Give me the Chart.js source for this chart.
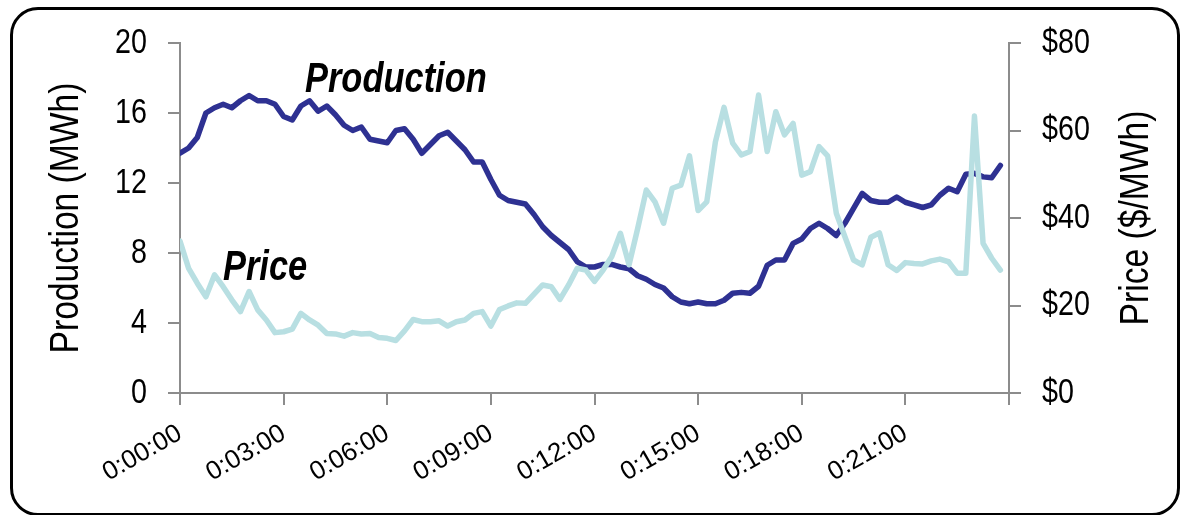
<!DOCTYPE html>
<html>
<head>
<meta charset="utf-8">
<title>Production and price</title>
<script src="https://cdn.jsdelivr.net/npm/chart.js@4.4.1/dist/chart.umd.min.js"></script>
<style>
  html, body { margin: 0; padding: 0; background: #fff; }
  body { width: 1181px; height: 515px; position: relative; overflow: hidden; }
  #frame {
    position: absolute; left: 10px; top: 7px;
    width: 1164px; height: 503px;
    border: 3px solid #000; border-radius: 28px;
  }
  #chart { position: absolute; left: 0; top: 0; }
</style>
</head>
<body>
<div id="frame"></div>
<canvas id="chart" width="1181" height="515"></canvas>
<script>
// one reading every 15 seconds, 0:00:00 through 0:23:45
const stepMinutes = 0.25;

const production = [
  13.7, 14.0, 14.6, 16.0, 16.3, 16.5, 16.3, 16.7, 17.0, 16.7, 16.7, 16.5,
  15.8, 15.6, 16.4, 16.7, 16.1, 16.4, 15.9, 15.3, 15.0, 15.2, 14.5, 14.4,
  14.3, 15.0, 15.1, 14.5, 13.7, 14.2, 14.7, 14.9, 14.4, 13.9, 13.2, 13.2,
  12.2, 11.3, 11.0, 10.9, 10.8, 10.2, 9.5, 9.0, 8.6, 8.2, 7.5, 7.2,
  7.2, 7.35, 7.35, 7.2, 7.1, 6.7, 6.5, 6.2, 6.0, 5.5, 5.2, 5.1,
  5.2, 5.1, 5.1, 5.3, 5.7, 5.75, 5.7, 6.1, 7.3, 7.6, 7.6, 8.55,
  8.8, 9.4, 9.7, 9.4, 9.0, 9.7, 10.55, 11.4, 11.0, 10.9, 10.9, 11.2,
  10.9, 10.75, 10.6, 10.75, 11.3, 11.7, 11.5, 12.5, 12.55, 12.35, 12.3, 13.0,
];

const price = [
  34.7, 28.5, 25.1, 22.0, 27.0, 24.3, 21.3, 18.6, 23.2, 19.0, 16.7, 13.8,
  14.0, 14.6, 18.2, 16.7, 15.5, 13.6, 13.5, 13.0, 13.8, 13.5, 13.6, 12.7,
  12.5, 12.0, 14.2, 16.8, 16.3, 16.3, 16.5, 15.3, 16.3, 16.7, 18.2, 18.6,
  15.3, 19.1, 19.9, 20.6, 20.5, 22.6, 24.7, 24.3, 21.4, 24.7, 28.5, 28.1,
  25.5, 28.1, 31.2, 36.5, 29.3, 37.6, 46.4, 43.7, 38.8, 46.8, 47.5, 54.2,
  41.7, 43.7, 57.4, 65.3, 57.1, 54.4, 55.2, 68.1, 55.2, 64.3, 59.0, 61.6,
  49.8, 50.6, 56.3, 54.2, 41.1, 35.7, 30.4, 29.3, 35.6, 36.6, 29.3, 28.0,
  29.8, 29.6, 29.5, 30.2, 30.6, 30.0, 27.4, 27.4, 63.3, 34.2, 30.8, 28.1,
];

const productionTicks = [0, 4, 8, 12, 16, 20];
const priceTicks = [0, 20, 40, 60, 80];
const timeTicks = [0, 3, 6, 9, 12, 15, 18, 21, 24];

const axisGray = "#8c8c8c";
const baseFont = '"Liberation Sans", Arial, sans-serif';
// no narrow face is installed, so the condensed text is squeezed horizontally
const squeeze = 0.82;

function toPoints(values) {
  return values.map((value, index) => ({ x: index * stepMinutes, y: value }));
}

function timeLabel(minutes) {
  if (minutes >= 24) return "";
  return `0:${String(minutes).padStart(2, "0")}:00`;
}

function condensedText(ctx, text, x, y, { font, align = "left", baseline = "alphabetic", rotate = 0 }) {
  ctx.save();
  ctx.translate(x, y);
  ctx.rotate(rotate);
  ctx.scale(squeeze, 1);
  ctx.font = font;
  ctx.textAlign = align;
  ctx.textBaseline = baseline;
  ctx.fillStyle = "#000";
  ctx.fillText(text, 0, 0);
  ctx.restore();
}

// y tick labels, axis titles and the in-plot series names
const condensedLabels = {
  id: "condensedLabels",
  afterDraw(chart) {
    const { ctx, scales } = chart;
    const tickFont = `35px ${baseFont}`;
    const titleFont = `41px ${baseFont}`;

    scales.y.ticks.forEach((tick) => {
      condensedText(ctx, String(tick.value), scales.y.right - 33, scales.y.getPixelForValue(tick.value),
        { font: tickFont, align: "right", baseline: "middle" });
    });
    scales.y2.ticks.forEach((tick) => {
      condensedText(ctx, `$${tick.value}`, scales.y2.left + 33, scales.y2.getPixelForValue(tick.value),
        { font: tickFont, align: "left", baseline: "middle" });
    });

    const midY = (chart.chartArea.top + chart.chartArea.bottom) / 2;
    condensedText(ctx, "Production (MWh)", 67, midY,
      { font: titleFont, align: "center", baseline: "middle", rotate: -Math.PI / 2 });
    condensedText(ctx, "Price ($/MWh)", 1137, midY,
      { font: titleFont, align: "center", baseline: "middle", rotate: -Math.PI / 2 });

    const nameFont = `italic bold 42px ${baseFont}`;
    condensedText(ctx, "Production", 305, 92, { font: nameFont });
    condensedText(ctx, "Price", 223, 280, { font: nameFont });
  },
};

function fixedSize(size, key) {
  return (scale) => { scale[key] = size; };
}

const sharedGrid = {
  drawOnChartArea: false,
  drawTicks: true,
  tickLength: 12,
  color: axisGray,
  lineWidth: 2,
};

new Chart(document.querySelector("#chart"), {
  type: "line",
  data: {
    datasets: [
      {
        label: "Price",
        data: toPoints(price),
        yAxisID: "y2",
        borderColor: "#b8dfe2",
        borderWidth: 5.5,
        pointRadius: 0,
        tension: 0,
        borderJoinStyle: "round",
        borderCapStyle: "round",
        order: 0,
      },
      {
        label: "Production",
        data: toPoints(production),
        yAxisID: "y",
        borderColor: "#2e3192",
        borderWidth: 5.5,
        pointRadius: 0,
        tension: 0,
        borderJoinStyle: "round",
        borderCapStyle: "round",
        order: 1,
      },
    ],
  },
  options: {
    responsive: false,
    animation: false,
    layout: { padding: { top: 43, left: 0, right: 0, bottom: 0 } },
    plugins: {
      legend: { display: false },
      tooltip: { enabled: false },
    },
    scales: {
      x: {
        type: "linear",
        min: 0,
        max: 24,
        afterFit: fixedSize(122, "height"),
        afterBuildTicks: (scale) => { scale.ticks = timeTicks.map((value) => ({ value })); },
        grid: sharedGrid,
        border: { color: axisGray, width: 2 },
        ticks: {
          autoSkip: false,
          minRotation: 30,
          maxRotation: 30,
          padding: 13,
          color: "#000",
          font: { family: baseFont, size: 26 },
          callback: (value) => timeLabel(value),
        },
      },
      y: {
        position: "left",
        min: 0,
        max: 20,
        afterFit: fixedSize(180, "width"),
        afterBuildTicks: (scale) => { scale.ticks = productionTicks.map((value) => ({ value })); },
        grid: sharedGrid,
        border: { color: axisGray, width: 2 },
        ticks: { display: false },
      },
      y2: {
        position: "right",
        min: 0,
        max: 80,
        afterFit: fixedSize(172, "width"),
        afterBuildTicks: (scale) => { scale.ticks = priceTicks.map((value) => ({ value })); },
        grid: sharedGrid,
        border: { color: axisGray, width: 2 },
        ticks: { display: false },
      },
    },
  },
  plugins: [condensedLabels],
});
</script>
</body>
</html>
